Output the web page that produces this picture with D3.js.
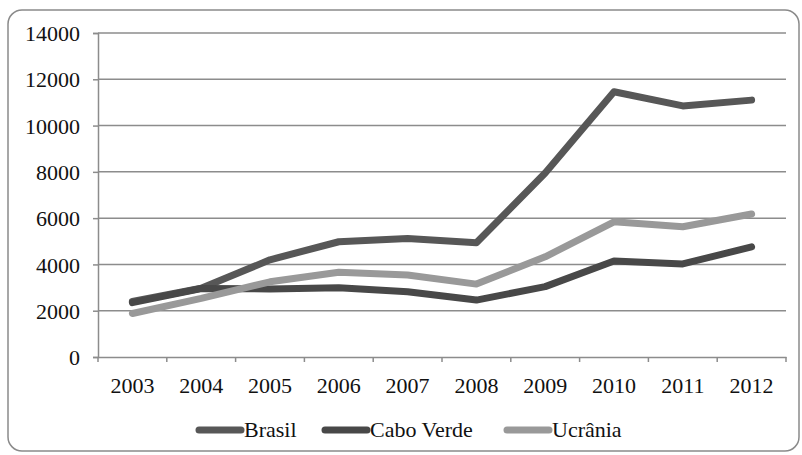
<!DOCTYPE html>
<html>
<head>
<meta charset="utf-8">
<script src="https://cdn.jsdelivr.net/npm/d3@7"></script>
<style>
body { margin: 0; background: #fff; }
</style>
</head>
<body>
<script>
const years = ['2003','2004','2005','2006','2007','2008','2009','2010','2011','2012'];
const brasil = [2400, 2970, 4200, 4980, 5120, 4940, 7950, 11460, 10850, 11100];
const caboVerde = [2350, 2960, 2940, 2990, 2820, 2460, 3040, 4150, 4020, 4760];
const ucrania = [1880, 2530, 3250, 3660, 3540, 3150, 4330, 5840, 5630, 6180];
const yTicks = [0, 2000, 4000, 6000, 8000, 10000, 12000, 14000];

const series = [
  {name: 'Brasil', values: brasil, color: '#575757'},
  {name: 'Cabo Verde', values: caboVerde, color: '#484848'},
  {name: 'Ucrânia', values: ucrania, color: '#999999'}
];

const w = 802, h = 455;
const mLeft = 98, mRight = 786, mTop = 33, mBottom = 357;
const serif = "Liberation Serif";

const svg = d3.select('body').append('svg').attr('width', w).attr('height', h);

svg.append('rect')
  .attr('x', 8).attr('y', 10).attr('width', 791).attr('height', 441)
  .attr('rx', 14).attr('ry', 14)
  .attr('fill', '#fff').attr('stroke', '#8a8a8a').attr('stroke-width', 1.5);

const x = d3.scaleBand().domain(years).range([mLeft, mRight]);
const y = d3.scaleLinear().domain([0, 14000]).range([mBottom, mTop]);

// gridlines
svg.append('g').selectAll('line').data(yTicks.filter(d => d > 0)).enter()
  .append('line')
  .attr('x1', mLeft).attr('x2', mRight)
  .attr('y1', d => y(d)).attr('y2', d => y(d))
  .attr('stroke', '#8c8c8c').attr('stroke-width', 1.5);

const yAxis = svg.append('g').attr('transform', 'translate(' + mLeft + ',0)')
  .call(d3.axisLeft(y).tickValues(yTicks).tickSize(5).tickPadding(13).tickFormat(d3.format('d')));
yAxis.select('.domain').attr('stroke', '#8c8c8c').attr('stroke-width', 1.5);
yAxis.selectAll('.tick line').attr('stroke', '#8c8c8c').attr('stroke-width', 1.5);
yAxis.selectAll('text').attr('dy', '0.35em')
  .style('font-family', serif).style('font-size', '22px').style('fill', '#111');

const xAxis = svg.append('g').attr('transform', 'translate(0,' + mBottom + ')')
  .call(d3.axisBottom(x).tickSize(0).tickPadding(20));
xAxis.select('.domain').attr('stroke', '#8c8c8c').attr('stroke-width', 1.5);
xAxis.selectAll('text')
  .style('font-family', serif).style('font-size', '22px').style('fill', '#111');

// category boundary ticks
const bounds = years.map(d => x(d)).concat([mRight]);
svg.append('g').selectAll('line').data(bounds).enter()
  .append('line')
  .attr('x1', d => d).attr('x2', d => d)
  .attr('y1', mBottom).attr('y2', mBottom + 5)
  .attr('stroke', '#8c8c8c').attr('stroke-width', 1.5);

const line = d3.line()
  .x((d, i) => x(years[i]) + x.bandwidth() / 2)
  .y(d => y(d));

svg.append('g').selectAll('path').data(series).enter()
  .append('path')
  .attr('d', d => line(d.values))
  .attr('fill', 'none')
  .attr('stroke', d => d.color)
  .attr('stroke-width', 7)
  .attr('stroke-linejoin', 'round')
  .attr('stroke-linecap', 'round');

// legend
const legendX = [199, 325, 507];
const leg = svg.append('g').selectAll('g').data(series).enter()
  .append('g').attr('transform', (d, i) => 'translate(' + legendX[i] + ',430)');
leg.append('line')
  .attr('x1', 0).attr('x2', 42).attr('y1', 0).attr('y2', 0)
  .attr('stroke', d => d.color).attr('stroke-width', 7).attr('stroke-linecap', 'round');
leg.append('text')
  .attr('x', 45).attr('y', 7)
  .style('font-family', serif).style('font-size', '22px').style('fill', '#111')
  .text(d => d.name);
</script>
</body>
</html>
